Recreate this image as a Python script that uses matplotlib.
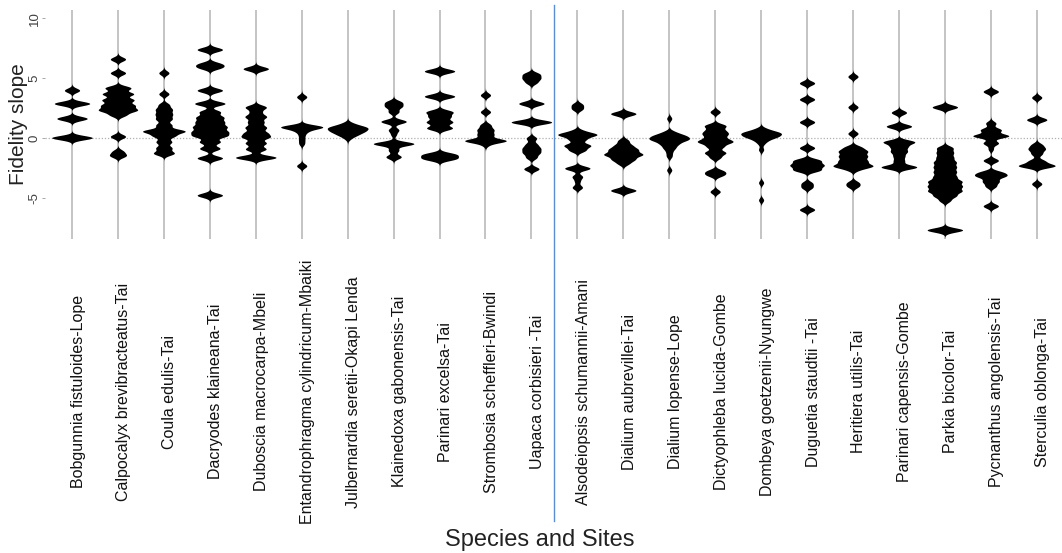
import numpy as np
import matplotlib
matplotlib.use("Agg")
import matplotlib.pyplot as plt
from matplotlib.transforms import ScaledTranslation

plt.rcParams['font.family'] = ['Liberation Sans', 'DejaVu Sans']

species = ["Bobgunnia fistuloides-Lope", "Calpocalyx brevibracteatus-Tai", "Coula edulis-Tai",
           "Dacryodes klaineana-Tai", "Duboscia macrocarpa-Mbeli", "Entandrophragma cylindricum-Mbaiki",
           "Julbernardia seretii-Okapi Lenda", "Klainedoxa gabonensis-Tai", "Parinari excelsa-Tai",
           "Strombosia scheffleri-Bwindi", "Uapaca corbisieri -Tai", "Alsodeiopsis schumannii-Amani",
           "Dialium aubrevillei-Tai", "Dialium lopense-Lope", "Dictyophleba lucida-Gombe",
           "Dombeya goetzenii-Nyungwe", "Duguetia staudtii -Tai", "Heritiera utilis-Tai",
           "Parinari capensis-Gombe", "Parkia bicolor-Tai", "Pycnanthus angolensis-Tai",
           "Sterculia oblonga-Tai"]

# fidelity slopes: (slope, number of trees)
bobgunnia = [(4.0, 3), (2.9, 7), (1.65, 6), (0.05, 8)]
calpocalyx = [(6.6, 3), (5.45, 3), (4.2, 5), (3.7, 6), (3.2, 6), (2.75, 6), (2.35, 7), (1.95, 3),
              (0.15, 3), (-1.1, 2), (-1.45, 3)]
coula = [(5.45, 2), (3.7, 2), (2.8, 2), (2.4, 3), (2.0, 3), (1.6, 3), (1.1, 3), (0.6, 8), (0.2, 4),
         (-0.3, 3), (-0.8, 3), (-1.25, 4)]
dacryodes = [(7.4, 5), (6.2, 4), (5.9, 4), (4.0, 5), (2.9, 6), (2.2, 4), (1.75, 5), (1.35, 5), (0.95, 6),
             (0.55, 6), (0.2, 6), (-0.3, 4), (-0.85, 4), (-1.65, 5), (-4.75, 5)]
duboscia = [(5.8, 5), (2.6, 4), (2.2, 2), (1.8, 4), (1.35, 3), (0.9, 4), (0.45, 4), (0.1, 5), (-0.4, 4),
            (-0.9, 4), (-1.6, 8)]
entandrophragma = [(3.45, 2), (0.95, 8), (0.6, 2), (0.25, 1), (-0.1, 1), (-0.45, 1), (-2.3, 2)]
julbernardia = [(1.2, 2), (0.9, 6), (0.6, 5), (0.3, 3), (0.0, 1)]
klainedoxa = [(3.0, 3), (2.65, 3), (2.2, 2), (1.4, 5), (0.7, 2), (0.3, 1), (-0.45, 8), (-1.0, 2),
              (-1.55, 3)]
parinari_excelsa = [(5.6, 6), (3.5, 6), (2.2, 5), (1.8, 4), (1.35, 5), (0.85, 5), (-1.35, 6), (-1.7, 6)]
strombosia = [(3.6, 2), (2.2, 2), (1.1, 2), (0.7, 3), (0.3, 3), (-0.2, 8), (-0.55, 1)]
uapaca = [(5.35, 3), (5.0, 3), (4.65, 2), (2.9, 5), (1.35, 8), (0.0, 2), (-0.5, 2), (-0.85, 3),
          (-1.2, 3), (-1.6, 2), (-2.55, 3)]
alsodeiopsis = [(2.8, 2), (2.45, 2), (0.6, 2), (0.3, 7), (-0.1, 3), (-0.6, 5), (-1.0, 3), (-2.5, 5),
                (-3.2, 2), (-3.6, 1), (-4.1, 2)]
dialium_aubrevillei = [(2.05, 5), (-0.2, 2), (-0.6, 3), (-0.95, 5), (-1.35, 7), (-1.75, 4), (-2.1, 2),
                       (-4.35, 5)]
dialium_lopense = [(1.65, 1), (0.5, 2), (0.2, 5), (-0.1, 6), (-0.45, 3), (-0.8, 2), (-1.15, 1),
                   (-1.5, 1), (-2.65, 1)]
dictyophleba = [(2.2, 2), (1.05, 4), (0.65, 3), (0.35, 4), (0.0, 3), (-0.3, 6), (-0.7, 3), (-1.2, 4),
                (-1.6, 2), (-2.75, 3), (-3.05, 3), (-4.45, 2)]
dombeya = [(0.75, 2), (0.45, 6), (0.15, 5), (-0.15, 2), (-0.45, 1), (-0.95, 1), (-3.7, 1), (-5.15, 1)]
duguetia = [(4.6, 3), (3.25, 3), (1.35, 3), (-0.8, 3), (-1.85, 5), (-2.25, 6), (-2.65, 5), (-3.75, 2),
            (-4.1, 2), (-5.95, 3)]
heritiera = [(5.15, 2), (2.6, 2), (0.4, 2), (-0.75, 3), (-1.1, 5), (-1.5, 5), (-1.9, 5), (-2.3, 7),
             (-2.6, 2), (-3.7, 2), (-4.0, 2)]
parinari_capensis = [(2.15, 3), (1.0, 5), (-0.3, 6), (-0.7, 3), (-1.1, 3), (-1.5, 2), (-1.9, 2),
                     (-2.4, 7)]
parkia = [(2.6, 5), (-0.8, 3), (-1.2, 3), (-1.6, 3), (-2.0, 4), (-2.4, 4), (-2.8, 4), (-3.2, 4),
          (-3.6, 6), (-4.0, 6), (-4.4, 6), (-4.8, 4), (-5.2, 2), (-7.65, 7)]
pycnanthus = [(3.9, 3), (1.25, 2), (0.7, 4), (0.2, 7), (-0.4, 3), (-0.9, 1), (-1.85, 3), (-2.85, 4),
              (-3.15, 5), (-3.6, 3), (-4.0, 2), (-5.65, 3)]
sterculia = [(3.4, 2), (1.55, 4), (-0.55, 2), (-0.9, 3), (-1.3, 2), (-1.9, 3), (-2.3, 7), (-3.8, 2)]

beans = [bobgunnia, calpocalyx, coula, dacryodes, duboscia, entandrophragma, julbernardia,
         klainedoxa, parinari_excelsa, strombosia, uapaca, alsodeiopsis, dialium_aubrevillei,
         dialium_lopense, dictyophleba, dombeya, duguetia, heritiera, parinari_capensis, parkia,
         pycnanthus, sterculia]

bw = 0.18          # kernel bandwidth (slope units)
tree_width = 0.11  # bean width per tree (category units)

W, H = 1062, 553
fig = plt.figure(figsize=(W / 100, H / 100), dpi=100)
ax = fig.add_axes([45 / W, 1 - 239 / H, (W - 45) / W, 229 / H])
ax.set_xlim(-0.588, 21.55)
ax.set_ylim(-8.4, 10.7)

for i, bean in enumerate(beans):
    ax.axvline(i, color='#c4c4c4', lw=1.4, zorder=1)
    vals = np.array([b[0] for b in bean])
    n = np.array([b[1] for b in bean])
    ys = np.linspace(vals.min() - 4 * bw, vals.max() + 4 * bw, 800)
    dens = (n[None, :] * np.exp(-0.5 * ((ys[:, None] - vals[None, :]) / bw) ** 2)).sum(axis=1)
    half = dens * tree_width / 2
    ax.fill_betweenx(ys, i - half, i + half, color='black', lw=0, zorder=3)

ax.axhline(0, color='#b0b0b0', lw=0.9, ls=(0, (1, 1.5)), zorder=2)
ax.axvline(10.5, ymin=-1.233, ymax=1.02, clip_on=False, color='#5b8fd2', lw=1.0, zorder=4)

for s in ax.spines.values():
    s.set_visible(False)

ax.set_yticks([-5, 0, 5, 10])
ax.set_yticklabels(['-5', '0', '5', '10'], rotation=90, va='center', fontsize=9.5, color='#404040')
ax.tick_params(axis='y', length=2, width=0.6, color='#999999', pad=1)

ax.set_xticks(range(len(species)))
ax.set_xticklabels(species, rotation=90, va='center', ha='center', fontsize=11.5, color='#111111')
ax.tick_params(axis='x', length=0, pad=110)
shift = ScaledTranslation(0.06, 0, fig.dpi_scale_trans)
for lab in ax.get_xticklabels():
    lab.set_transform(lab.get_transform() + shift)

ax.set_ylabel('Fidelity slope', fontsize=15, color='#222222')
ax.yaxis.set_label_coords(-0.017, 0.5)
fig.text(540 / W, 1 - 540 / H, 'Species and Sites', ha='center', va='center', fontsize=17,
         color='#222222')

fig.savefig('out.png', dpi=100)
